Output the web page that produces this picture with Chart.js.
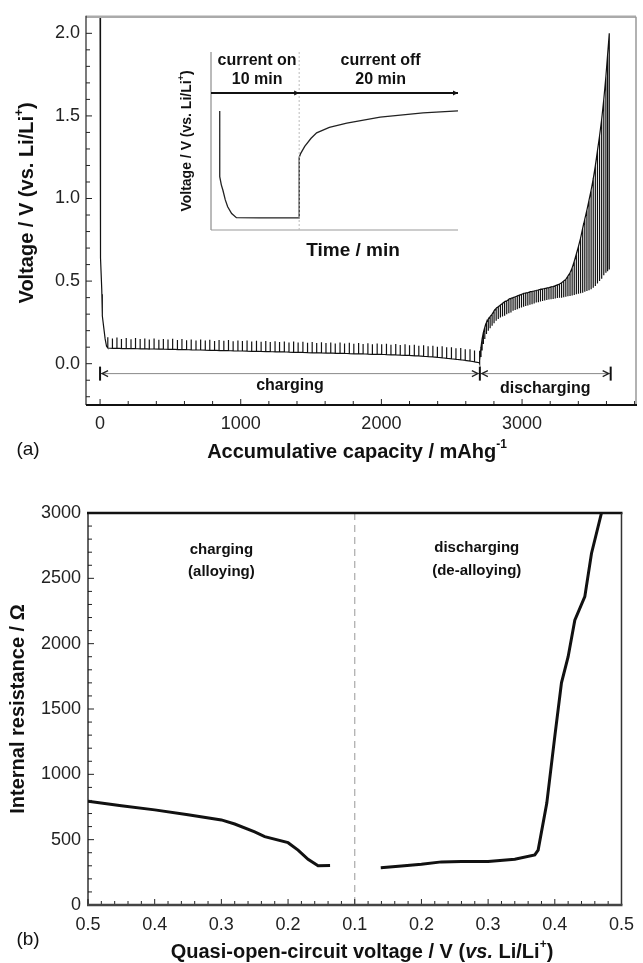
<!DOCTYPE html>
<html><head><meta charset="utf-8">
<script src="https://cdn.jsdelivr.net/npm/chart.js@4.4.1/dist/chart.umd.min.js"></script>
<style>
html,body{margin:0;padding:0;background:#fff;width:643px;height:963px;overflow:hidden;}
canvas{position:absolute;display:block;}
#cA{left:0;top:0;}
#cI{left:160px;top:40px;}
#cB{left:0;top:475px;}
</style></head><body>
<canvas id="cA" width="643" height="475"></canvas>
<canvas id="cI" width="310" height="235"></canvas>
<canvas id="cB" width="643" height="488"></canvas>
<script>
// ---------------- DATA (a) : GITT profile ----------------
const initCap = [0, 0, 1, 5, 5, 5, 12, 16, 16, 16, 26, 36, 46];
const initV   = [2.1, 1.6, 1.0, 0.66, 0.92, 0.64, 0.45, 0.30, 0.42, 0.29, 0.22, 0.15, 0.105];

const chgCap = [55, 88, 120, 152, 186, 220, 252, 285, 318, 350,
  384, 418, 450, 483, 516, 550, 582, 615, 648, 682,
  715, 748, 780, 814, 846, 880, 913, 946, 980, 1012,
  1045, 1078, 1112, 1145, 1178, 1210, 1244, 1276, 1310, 1343,
  1376, 1408, 1442, 1475, 1508, 1540, 1574, 1606, 1640, 1672,
  1706, 1738, 1772, 1804, 1838, 1870, 1904, 1936, 1970, 2002,
  2036, 2068, 2102, 2134, 2168, 2200, 2234, 2266, 2300, 2332,
  2366, 2398, 2432, 2464, 2498, 2530, 2564, 2596, 2630, 2662, 2696];
const chgLoad = [0.095, 0.093, 0.094, 0.092, 0.093, 0.091, 0.092, 0.090, 0.091, 0.089,
  0.090, 0.088, 0.089, 0.087, 0.088, 0.086, 0.085, 0.086, 0.084, 0.083,
  0.084, 0.082, 0.081, 0.082, 0.080, 0.079, 0.080, 0.078, 0.077, 0.078,
  0.076, 0.075, 0.076, 0.074, 0.073, 0.074, 0.072, 0.071, 0.072, 0.070,
  0.069, 0.070, 0.068, 0.067, 0.066, 0.067, 0.065, 0.064, 0.065, 0.063,
  0.062, 0.063, 0.061, 0.060, 0.059, 0.060, 0.058, 0.057, 0.056, 0.057,
  0.055, 0.054, 0.053, 0.052, 0.051, 0.050, 0.048, 0.047, 0.045, 0.043,
  0.041, 0.039, 0.036, 0.033, 0.030, 0.027, 0.024, 0.020, 0.016, 0.011, 0.006];
const chgRest = [0.160, 0.152, 0.158, 0.150, 0.155, 0.148, 0.156, 0.149, 0.153, 0.146,
  0.152, 0.145, 0.150, 0.147, 0.151, 0.143, 0.149, 0.142, 0.147, 0.140,
  0.146, 0.141, 0.145, 0.138, 0.143, 0.139, 0.144, 0.136, 0.141, 0.137,
  0.140, 0.134, 0.139, 0.133, 0.138, 0.131, 0.136, 0.132, 0.135, 0.129,
  0.134, 0.128, 0.133, 0.127, 0.131, 0.125, 0.130, 0.126, 0.129, 0.123,
  0.128, 0.122, 0.127, 0.121, 0.125, 0.120, 0.124, 0.118, 0.122, 0.117,
  0.121, 0.115, 0.119, 0.113, 0.117, 0.111, 0.114, 0.109, 0.112, 0.106,
  0.109, 0.103, 0.105, 0.099, 0.100, 0.094, 0.095, 0.088, 0.087, 0.080, 0.078];

const disCap = [2700, 2708, 2716, 2725, 2735, 2747, 2760, 2773, 2787, 2801,
  2816, 2831, 2846, 2861, 2876, 2891, 2906, 2921, 2936, 2951,
  2966, 2981, 2996, 3011, 3026, 3041, 3056, 3071, 3086, 3101,
  3116, 3131, 3146, 3161, 3176, 3191, 3206, 3221, 3236, 3251,
  3266, 3281, 3296, 3311, 3326, 3341, 3356, 3371, 3386, 3401,
  3416, 3431, 3446, 3461, 3476, 3491, 3506, 3521, 3536, 3551,
  3566, 3581, 3596, 3608, 3620];
const disLoad = [0.02, 0.10, 0.15, 0.19, 0.22, 0.25, 0.27, 0.285, 0.30, 0.32,
  0.335, 0.345, 0.355, 0.365, 0.375, 0.38, 0.39, 0.395, 0.40, 0.405,
  0.41, 0.415, 0.42, 0.425, 0.428, 0.43, 0.435, 0.437, 0.44, 0.443,
  0.446, 0.45, 0.452, 0.455, 0.458, 0.46, 0.465, 0.468, 0.472, 0.477,
  0.482, 0.49, 0.50, 0.51, 0.53, 0.55, 0.58, 0.62, 0.665, 0.71,
  0.76, 0.82, 0.875, 0.93, 0.99, 1.05, 1.12, 1.20, 1.29, 1.38,
  1.48, 1.60, 1.74, 1.87, 2.0];
const disRest = [0.0, 0.04, 0.08, 0.12, 0.15, 0.18, 0.20, 0.215, 0.23, 0.245,
  0.26, 0.27, 0.28, 0.285, 0.29, 0.30, 0.305, 0.31, 0.32, 0.325,
  0.33, 0.335, 0.34, 0.345, 0.35, 0.352, 0.357, 0.36, 0.365, 0.37,
  0.372, 0.376, 0.38, 0.382, 0.385, 0.388, 0.39, 0.392, 0.395, 0.397,
  0.40, 0.40, 0.402, 0.405, 0.408, 0.41, 0.413, 0.416, 0.42, 0.423,
  0.426, 0.43, 0.435, 0.44, 0.445, 0.45, 0.46, 0.47, 0.485, 0.50,
  0.515, 0.535, 0.55, 0.56, 0.57];

const aXTicks = [0, 1000, 2000, 3000];
const aYTicks = [0.0, 0.5, 1.0, 1.5, 2.0];
const phaseBounds = [0, 2700, 3630];
const phaseNames = ['charging', 'discharging'];

// ---------------- DATA (inset) ----------------
const insetT = [0, 0, 0.2, 0.4, 0.7, 1.0, 1.5, 2.1, 5, 9.95, 10, 10, 10.2, 10.7, 11.5, 12.2, 13.8, 16, 20.2, 25.6, 30];
const insetV = [0.87, 0.39, 0.33, 0.29, 0.22, 0.17, 0.12, 0.09, 0.088, 0.088, 0.088, 0.53, 0.56, 0.61, 0.67, 0.71, 0.75, 0.78, 0.825, 0.855, 0.87];
const insetPhaseT = [-1.1, 10, 30];
const insetPhaseText = [['current on', '10 min'], ['current off', '20 min']];

// ---------------- DATA (b) : internal resistance ----------------
const chgQOCV = [0.5, 0.45, 0.4, 0.35, 0.3, 0.28, 0.25, 0.235, 0.2, 0.185, 0.17, 0.155, 0.137];
const chgRes  = [795, 760, 728, 690, 651, 620, 560, 523, 477, 420, 350, 300, 302];
const disQOCV = [0.139, 0.17, 0.2, 0.23, 0.26, 0.3, 0.34, 0.37, 0.375, 0.388, 0.4, 0.41, 0.42, 0.43, 0.445, 0.455, 0.47];
const disRes  = [286, 298, 311, 330, 332, 332, 350, 383, 420, 780, 1290, 1700, 1900, 2180, 2360, 2690, 3000];
const bXLabels = ['0.5', '0.4', '0.3', '0.2', '0.1', '0.2', '0.3', '0.4', '0.5'];
const bYTicks = [0, 500, 1000, 1500, 2000, 2500, 3000];

// ---------------- helpers ----------------
const FAM = '"Liberation Sans", Arial, Helvetica, sans-serif';
function pulses(cap, load, rest) {
  const n = Math.min(cap.length, load.length, rest.length), pts = [];
  for (let i = 0; i < n; i++) {
    pts.push({x: cap[i], y: load[i]}, {x: cap[i], y: rest[i]}, {x: cap[i], y: load[i]});
  }
  return pts;
}
function drawRich(ctx, segs, x, y, size, rot) {
  ctx.save();
  ctx.translate(x, y);
  if (rot) ctx.rotate(rot);
  const f = s => (s.i ? 'italic ' : '') + (s.n ? '' : 'bold ') + (s.sup ? Math.round(size * 0.62) : size) + 'px ' + FAM;
  let w = 0;
  segs.forEach(s => { ctx.font = f(s); s.w = ctx.measureText(s.t).width; w += s.w; });
  let cx = -w / 2;
  ctx.textBaseline = 'middle'; ctx.textAlign = 'left'; ctx.fillStyle = '#111';
  segs.forEach(s => { ctx.font = f(s); ctx.fillText(s.t, cx, s.sup ? -size * 0.36 : 0); cx += s.w; });
  ctx.restore();
}
function line(ctx, x1, y1, x2, y2, col, w, dash) {
  ctx.save(); ctx.strokeStyle = col; ctx.lineWidth = w; if (dash) ctx.setLineDash(dash);
  ctx.beginPath(); ctx.moveTo(x1, y1); ctx.lineTo(x2, y2); ctx.stroke(); ctx.restore();
}
function range(a, b, step) { const r = []; for (let v = a; v <= b + 1e-9; v += step) r.push(+v.toFixed(6)); return r; }
const setTicks = arr => (s) => { s.ticks = arr.map(v => ({value: v})); };

// ---------------- chart (a) ----------------
const curveA = initCap.map((c, i) => ({x: c, y: initV[i]}))
  .concat(pulses(chgCap, chgLoad, chgRest), pulses(disCap, disLoad, disRest));

const plugA = {
  id: 'plugA',
  afterDraw(chart) {
    const ctx = chart.ctx, a = chart.chartArea, xs = chart.scales.x, ys = chart.scales.y;
    range(0, 3800, 200).forEach(v => { const p = xs.getPixelForValue(v); line(ctx, p, a.bottom, p, a.bottom - (v % 1000 === 0 ? 6 : 4), '#222', 1); });
    range(-0.2, 2.1, 0.1).forEach(v => { const p = ys.getPixelForValue(v); line(ctx, a.left, p, a.left + (Math.abs(v * 2 - Math.round(v * 2)) < 1e-6 ? 6 : 4), p, '#222', 1); });
    line(ctx, a.left, a.top, a.right, a.top, '#aaa', 2.5);
    line(ctx, a.right, a.top, a.right, a.bottom, '#999', 1.5);
    line(ctx, a.left, a.top - 1, a.left, a.bottom, '#222', 1.2);
    line(ctx, a.left, a.bottom, a.right + 1, a.bottom, '#111', 2);
    const yA = ys.getPixelForValue(-0.06);
    const xb = phaseBounds.map(v => xs.getPixelForValue(v));
    line(ctx, xb[0], yA, xb[2], yA, '#888', 1);
    xb.forEach(p => line(ctx, p, yA - 7, p, yA + 7, '#111', 2));
    for (let k = 0; k < 2; k++) {
      const l = xb[k] + 2, r = xb[k + 1] - 2;
      ctx.save(); ctx.strokeStyle = '#222'; ctx.lineWidth = 1.3;
      ctx.beginPath(); ctx.moveTo(l + 6, yA - 3); ctx.lineTo(l, yA); ctx.lineTo(l + 6, yA + 3);
      ctx.moveTo(r - 6, yA - 3); ctx.lineTo(r, yA); ctx.lineTo(r - 6, yA + 3); ctx.stroke(); ctx.restore();
      const cx = (xb[k] + xb[k + 1]) / 2;
      drawRich(ctx, [{t: phaseNames[k]}], cx, ys.getPixelForValue(k === 0 ? -0.135 : -0.15), 16);
    }
    drawRich(ctx, [{t: 'Voltage / V (vs. Li/Li'}, {t: '+', sup: true}, {t: ')'}], 27, (a.top + a.bottom) / 2 - 8, 20, -Math.PI / 2);
    drawRich(ctx, [{t: 'Accumulative capacity / mAhg'}, {t: '-1', sup: true}], 357, 452, 20);
    drawRich(ctx, [{t: '(a)', n: true}], 28, 450, 19);
  }
};

new Chart(document.getElementById('cA'), {
  type: 'scatter',
  data: {datasets: [{data: curveA, showLine: true, pointRadius: 0, borderColor: '#111', borderWidth: 1.2, tension: 0}]},
  options: {
    responsive: false, animation: false, events: [],
    layout: {padding: {left: 0, top: 13, right: 7, bottom: 0}},
    plugins: {legend: {display: false}, tooltip: {enabled: false}},
    scales: {
      x: {type: 'linear', min: -100, max: 3810, afterBuildTicks: setTicks(aXTicks), afterFit: s => { s.height = 70; },
        grid: {display: false, drawTicks: false}, border: {display: false},
        ticks: {padding: 8, color: '#222', font: {size: 18, family: FAM}, callback: v => String(v), maxRotation: 0, autoSkip: false}},
      y: {type: 'linear', min: -0.25, max: 2.1, afterBuildTicks: setTicks(aYTicks), afterFit: s => { s.width = 86; },
        grid: {display: false, drawTicks: false}, border: {display: false},
        ticks: {padding: 6, color: '#222', font: {size: 18, family: FAM}, callback: v => v.toFixed(1), autoSkip: false}}
    }
  },
  plugins: [plugA]
});

// ---------------- inset ----------------
const plugI = {
  id: 'plugI',
  afterDraw(chart) {
    const ctx = chart.ctx, a = chart.chartArea, xs = chart.scales.x, ys = chart.scales.y;
    line(ctx, a.left, a.top, a.left, a.bottom, '#777', 1);
    line(ctx, a.left, a.bottom, a.right, a.bottom, '#999', 1.2);
    const xd = xs.getPixelForValue(insetPhaseT[1]);
    line(ctx, xd, a.top, xd, a.bottom, '#bbb', 1, [2, 2]);
    const yL = ys.getPixelForValue(1.0);
    line(ctx, a.left, yL, a.right, yL, '#111', 2);
    [xs.getPixelForValue(insetPhaseT[1]), a.right].forEach(p => {
      ctx.save(); ctx.fillStyle = '#111'; ctx.beginPath(); ctx.moveTo(p, yL); ctx.lineTo(p - 5, yL - 2.5); ctx.lineTo(p - 5, yL + 2.5); ctx.closePath(); ctx.fill(); ctx.restore();
    });
    for (let k = 0; k < 2; k++) {
      const cx = (xs.getPixelForValue(insetPhaseT[k]) + xs.getPixelForValue(insetPhaseT[k + 1])) / 2;
      drawRich(ctx, [{t: insetPhaseText[k][0]}], cx + 2, ys.getPixelForValue(1.234), 16);
      drawRich(ctx, [{t: insetPhaseText[k][1]}], cx + 2, ys.getPixelForValue(1.095), 16);
    }
    drawRich(ctx, [{t: 'Voltage / V (vs. Li/Li'}, {t: '+', sup: true}, {t: ')'}], 27, (a.top + a.bottom) / 2, 14, -Math.PI / 2);
    drawRich(ctx, [{t: 'Time / min'}], 193, 211, 19);
  }
};
new Chart(document.getElementById('cI'), {
  type: 'scatter',
  data: {datasets: [{data: insetT.map((t, i) => ({x: t, y: insetV[i]})), showLine: true, pointRadius: 0, borderColor: '#222', borderWidth: 1.3, tension: 0}]},
  options: {
    responsive: false, animation: false, events: [],
    layout: {padding: {left: 0, top: 12, right: 12, bottom: 0}},
    plugins: {legend: {display: false}, tooltip: {enabled: false}},
    scales: {
      x: {type: 'linear', min: -1.1, max: 30, afterFit: s => { s.height = 45; }, grid: {display: false, drawTicks: false}, border: {display: false}, ticks: {display: false}},
      y: {type: 'linear', min: 0, max: 1.3, afterFit: s => { s.width = 51; }, grid: {display: false, drawTicks: false}, border: {display: false}, ticks: {display: false}}
    }
  },
  plugins: [plugI]
});

// ---------------- chart (b) ----------------
const foldChg = v => (0.5 - v) / 0.1;
const foldDis = v => 4 + (v - 0.1) / 0.1;
const plugB = {
  id: 'plugB',
  beforeDatasetsDraw(chart) {
    const ctx = chart.ctx, a = chart.chartArea, xs = chart.scales.x;
    const p = xs.getPixelForValue(4);
    line(ctx, p, a.top, p, a.bottom, '#aaa', 1.2, [7, 5]);
  },
  afterDraw(chart) {
    const ctx = chart.ctx, a = chart.chartArea, xs = chart.scales.x, ys = chart.scales.y;
    range(0, 8, 0.2).forEach(u => { const p = xs.getPixelForValue(u); const maj = Math.abs(u - Math.round(u)) < 1e-6; line(ctx, p, a.bottom, p, a.bottom - (maj ? 6 : 4), '#222', 1); });
    range(0, 3000, 100).forEach(v => { const p = ys.getPixelForValue(v); line(ctx, a.left, p, a.left + (v % 500 === 0 ? 6 : 4), p, '#222', 1); });
    line(ctx, a.left - 1, a.top, a.right + 1, a.top, '#111', 2.5);
    line(ctx, a.right, a.top, a.right, a.bottom, '#333', 1.5);
    line(ctx, a.left, a.top, a.left, a.bottom, '#111', 1.3);
    line(ctx, a.left - 1, a.bottom, a.right + 1, a.bottom, '#444', 2.5);
    drawRich(ctx, [{t: 'charging'}], xs.getPixelForValue(foldChg(0.3)), ys.getPixelForValue(2720), 15);
    drawRich(ctx, [{t: '(alloying)'}], xs.getPixelForValue(foldChg(0.3)), ys.getPixelForValue(2550), 15);
    drawRich(ctx, [{t: 'discharging'}], xs.getPixelForValue(foldDis(0.283)), ys.getPixelForValue(2730), 15);
    drawRich(ctx, [{t: '(de-alloying)'}], xs.getPixelForValue(foldDis(0.283)), ys.getPixelForValue(2560), 15);
    drawRich(ctx, [{t: 'Internal resistance / Ω'}], 18, (a.top + a.bottom) / 2, 20, -Math.PI / 2);
    drawRich(ctx, [{t: 'Quasi-open-circuit voltage / V ('}, {t: 'vs.', i: true}, {t: ' Li/Li'}, {t: '+', sup: true}, {t: ')'}], 362, 477, 20);
    drawRich(ctx, [{t: '(b)', n: true}], 28, 465, 19);
  }
};
new Chart(document.getElementById('cB'), {
  type: 'scatter',
  data: {datasets: [
    {data: chgQOCV.map((v, i) => ({x: foldChg(v), y: chgRes[i]})), showLine: true, pointRadius: 0, borderColor: '#111', borderWidth: 3, tension: 0},
    {data: disQOCV.map((v, i) => ({x: foldDis(v), y: disRes[i]})), showLine: true, pointRadius: 0, borderColor: '#111', borderWidth: 3, tension: 0}
  ]},
  options: {
    responsive: false, animation: false, events: [],
    layout: {padding: {left: 0, top: 38, right: 10, bottom: 0}},
    plugins: {legend: {display: false}, tooltip: {enabled: false}},
    scales: {
      x: {type: 'linear', min: 0, max: 8, afterBuildTicks: setTicks(bXLabels.map((_, i) => i)), afterFit: s => { s.height = 58; },
        grid: {display: false, drawTicks: false}, border: {display: false},
        ticks: {padding: 9, color: '#222', font: {size: 18, family: FAM}, callback: (v, i) => bXLabels[i], maxRotation: 0, autoSkip: false}},
      y: {type: 'linear', min: 0, max: 3000, afterBuildTicks: setTicks(bYTicks), afterFit: s => { s.width = 88; },
        grid: {display: false, drawTicks: false}, border: {display: false},
        ticks: {padding: 7, color: '#222', font: {size: 18, family: FAM}, callback: v => String(v), autoSkip: false}}
    }
  },
  plugins: [plugB]
});
</script>
</body></html>
